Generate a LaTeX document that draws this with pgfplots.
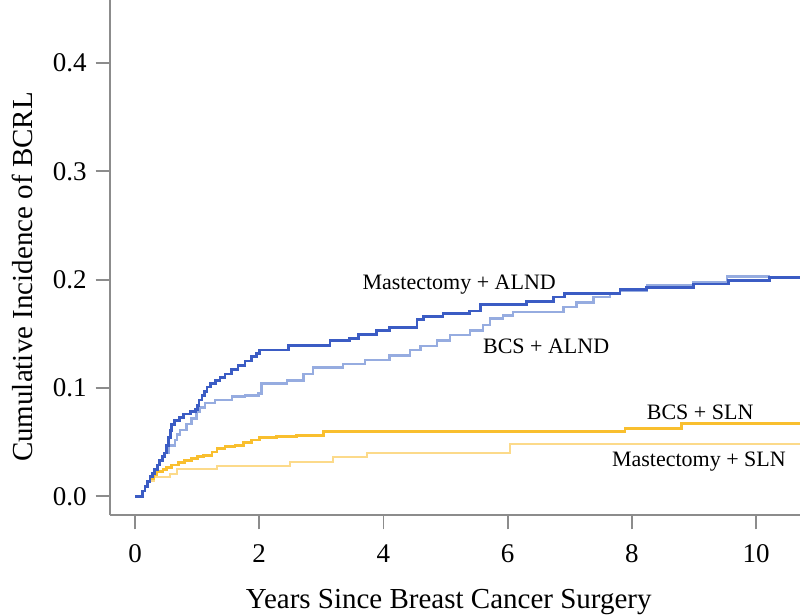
\documentclass[border=0pt]{standalone}
\usepackage{pgfplots}
\pgfplotsset{compat=1.18}
\usepackage{fontspec}
\setmainfont{Liberation Serif}
\definecolor{dblue}{RGB}{59,92,196}
\definecolor{lblue}{RGB}{150,172,224}
\definecolor{dyel}{RGB}{249,191,46}
\definecolor{lyel}{RGB}{252,218,138}
\definecolor{spine}{RGB}{140,140,140}
\begin{document}
\begin{tikzpicture}
\begin{axis}[
  scale only axis,
  width=345pt, height=257.5pt,
  xmin=-0.4026, xmax=10.708,
  ymin=-0.0172, ymax=0.458,
  axis x line*=bottom, axis y line*=left,
  axis line style={spine, line width=0.9pt, -},
  every tick/.style={spine, line width=0.9pt},
  tick align=outside,
  major tick length=7.2pt,
  xtick={0,2,4,6,8,10},
  ytick={0,0.1,0.2,0.3,0.4},
  yticklabels={0.0,0.1,0.2,0.3,0.4},
  xticklabels={0,2,4,6,8,10},
  tick label style={font=\fontsize{13.5}{16}\selectfont, black},
  xticklabel style={yshift=-4pt},
  yticklabel style={xshift=-1pt},
  clip=true,
  xlabel={Years Since Breast Cancer Surgery},
  ylabel={Cumulative Incidence of BCRL},
  label style={font=\fontsize{14.5}{17}\selectfont},
  xlabel style={at={(axis description cs:0.491,-0.168)}, anchor=center},
  ylabel style={at={(axis description cs:-0.1275,0.462)}, anchor=center},
  every axis plot/.append style={const plot mark left, no marks},
]
% Mastectomy + SLN (light yellow)
\addplot[lyel, line width=1.1pt] coordinates {
(0,0) (0.08,0) (0.12,0.005) (0.16,0.009) (0.2,0.014) (0.3,0.018) (0.56,0.021)
(0.67,0.025) (1.32,0.028) (2.5,0.032) (3.19,0.036) (3.73,0.040) (6.04,0.048) (10.708,0.048)};
% BCS + SLN (dark yellow)
\addplot[dyel, line width=1.4pt] coordinates {
(0,0) (0.08,0) (0.12,0.005) (0.16,0.009) (0.2,0.014) (0.24,0.016) (0.3,0.020)
(0.35,0.023) (0.45,0.025) (0.51,0.027) (0.59,0.029) (0.7,0.031) (0.8,0.033)
(0.91,0.035) (1.0,0.037) (1.1,0.038) (1.24,0.041) (1.32,0.044) (1.45,0.046)
(1.61,0.047) (1.75,0.050) (1.88,0.052) (2.0,0.054) (2.28,0.055) (2.6,0.056)
(3.03,0.060) (7.89,0.063) (8.80,0.067) (10.708,0.067)};
% BCS + ALND (light blue)
\addplot[lblue, line width=1.2pt] coordinates {
(0,0) (0.08,0) (0.12,0.005) (0.16,0.009) (0.2,0.014) (0.24,0.018) (0.28,0.021)
(0.32,0.025) (0.36,0.029) (0.40,0.033) (0.44,0.037) (0.48,0.040) (0.54,0.047)
(0.64,0.052) (0.68,0.057) (0.72,0.061) (0.83,0.067) (0.91,0.072) (0.99,0.078)
(1.05,0.082) (1.13,0.086) (1.29,0.089) (1.56,0.092) (1.77,0.093) (1.99,0.095)
(2.04,0.104) (2.45,0.107) (2.71,0.113) (2.87,0.119) (3.35,0.122) (3.7,0.126)
(4.1,0.130) (4.43,0.135) (4.6,0.139) (4.86,0.144) (5.07,0.149) (5.39,0.153)
(5.6,0.158) (5.72,0.164) (5.93,0.167) (6.09,0.170) (6.9,0.175) (7.11,0.179)
(7.38,0.184) (7.65,0.187) (7.81,0.190) (8.24,0.195) (8.99,0.198) (9.53,0.203)
(10.22,0.203)};
% Mastectomy + ALND (dark blue)
\addplot[dblue, line width=1.4pt] coordinates {
(0,0) (0.08,0) (0.12,0.005) (0.16,0.009) (0.2,0.014) (0.24,0.018) (0.28,0.021)
(0.32,0.025) (0.36,0.029) (0.40,0.033) (0.44,0.037) (0.48,0.040) (0.51,0.047)
(0.54,0.054) (0.57,0.061) (0.59,0.066) (0.64,0.070) (0.72,0.073) (0.78,0.076)
(0.89,0.078) (0.97,0.080) (1.00,0.084) (1.03,0.089) (1.08,0.093) (1.12,0.097)
(1.16,0.101) (1.22,0.104) (1.29,0.107) (1.37,0.110) (1.45,0.113) (1.55,0.117)
(1.66,0.121) (1.77,0.125) (1.88,0.129) (1.95,0.132) (2.0,0.135) (2.47,0.139)
(3.14,0.144) (3.46,0.146) (3.6,0.149) (3.89,0.153) (4.1,0.156) (4.54,0.163)
(4.64,0.166) (4.96,0.169) (5.39,0.171) (5.56,0.177) (6.31,0.180) (6.74,0.184)
(6.92,0.187) (7.81,0.191) (8.24,0.193) (8.99,0.196) (9.55,0.199) (10.22,0.202)
(10.708,0.202)};
\node[font=\fontsize{11}{13}\selectfont] at (axis cs:5.22,0.195) {Mastectomy + ALND};
\node[font=\fontsize{11}{13}\selectfont] at (axis cs:6.62,0.138) {BCS + ALND};
\node[font=\fontsize{11}{13}\selectfont] at (axis cs:9.1,0.078) {BCS + SLN};
\node[font=\fontsize{11}{13}\selectfont] at (axis cs:9.08,0.032) {Mastectomy + SLN};
\end{axis}
\pgfresetboundingbox
\path[use as bounding box] ([shift={(-55pt,-50pt)}]current axis.south west) rectangle (current axis.north east);
\end{tikzpicture}
\end{document}
